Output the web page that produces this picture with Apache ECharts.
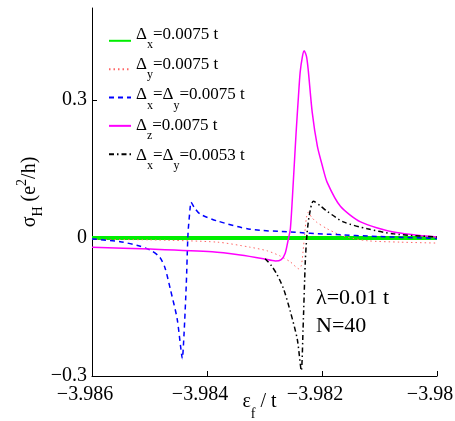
<!DOCTYPE html>
<html>
<head>
<meta charset="utf-8">
<script src="https://cdn.jsdelivr.net/npm/echarts@6/dist/echarts.min.js"></script>
<style>html,body{margin:0;padding:0;background:#fff}#c{width:455px;height:421px}</style>
</head>
<body>
<div id="c"></div>
<script>
// ---- data ----
const xTicks = [-3.986, -3.984, -3.982, -3.98];
const yTicks = [-0.3, 0, 0.3];

const greenX = [-3.986, -3.98];
const greenY = [0, 0];

const redX = [-3.986, -3.985, -3.98382, -3.98325, -3.98295, -3.98273, -3.98255, -3.98240, -3.98236, -3.98233, -3.98230, -3.98227, -3.98224, -3.98218, -3.98210, -3.98191, -3.98163, -3.98121, -3.98064, -3.98];
const redY = [-0.003, -0.004, -0.009, -0.02, -0.028, -0.039, -0.052, -0.067, -0.06, -0.03, 0.01, 0.045, 0.056, 0.045, 0.035, 0.02, 0.004, -0.006, -0.009, -0.011];

const blueX = [-3.986, -3.98551, -3.98516, -3.98496, -3.98482, -3.98473, -3.98464, -3.98452, -3.98446, -3.98443, -3.98440, -3.98436, -3.98433, -3.98429, -3.98428, -3.98422, -3.98412, -3.98382, -3.98325, -3.98255, -3.98186, -3.98098, -3.98];
const blueY = [-0.002, -0.008, -0.018, -0.028, -0.042, -0.065, -0.11, -0.175, -0.235, -0.262, -0.21, -0.1, 0.01, 0.07, 0.078, 0.066, 0.052, 0.037, 0.019, 0.013, 0.008, 0.003, -0.001];

const magX = [-3.986, -3.98499, -3.98391, -3.98342, -3.98302, -3.98281, -3.98271, -3.98264, -3.98259, -3.98255, -3.98250, -3.98245, -3.98241, -3.98238, -3.98234, -3.98231, -3.98227, -3.98224, -3.98217, -3.98208, -3.98199, -3.98191, -3.98168, -3.98133, -3.98076, -3.98];
const magY = [-0.02, -0.024, -0.03, -0.037, -0.045, -0.05, -0.047, -0.033, -0.005, 0.02, 0.12, 0.23, 0.307, 0.36, 0.395, 0.407, 0.395, 0.366, 0.273, 0.199, 0.155, 0.121, 0.069, 0.035, 0.013, 0.002];

const blackX = [-3.98299, -3.98288, -3.98278, -3.98267, -3.98255, -3.98243, -3.98236, -3.98233, -3.98229, -3.98226, -3.98222, -3.98215, -3.98203, -3.98191, -3.98163, -3.98121, -3.98076, -3.98];
const blackY = [-0.045, -0.06, -0.08, -0.11, -0.16, -0.22, -0.288, -0.2, -0.05, 0.01, 0.05, 0.08, 0.07, 0.058, 0.035, 0.02, 0.009, 0.002];

const names = ['dx', 'dy', 'dxy', 'dz', 'dxy2'];
const legendText = {
  dx: '{d|Δ}{s|x}{d|=0.0075 t}',
  dy: '{d|Δ}{s|y}{d|=0.0075 t}',
  dxy: '{d|Δ}{s|x}{d|=Δ}{s|y}{d|=0.0075 t}',
  dz: '{d|Δ}{s|z}{d|=0.0075 t}',
  dxy2: '{d|Δ}{s|x}{d|=Δ}{s|y}{d|=0.0053 t}'
};

function pairs(xs, ys) { return xs.map((x, i) => [x, ys[i]]); }
const FONT = '"Liberation Serif", "DejaVu Serif", serif';
const minus = s => String(s).replace('-', '\u2212');

const chart = echarts.init(document.getElementById('c'), null, {renderer: 'canvas'});
chart.setOption({
  animation: false,
  backgroundColor: '#fff',
  grid: {left: 92, right: 18, top: 8, bottom: 45, containLabel: false, outerBoundsMode: 'none'},
  legend: [
    { // line samples
      data: names,
      orient: 'vertical',
      left: 103,
      top: 31,
      itemWidth: 22,
      itemHeight: 12,
      itemGap: 18.75,
      itemStyle: {opacity: 0},
      formatter: () => ' ',
      textStyle: {fontSize: 6, lineHeight: 6}
    },
    { // labels
      data: names,
      orient: 'vertical',
      left: 103,
      top: 21,
      itemWidth: 22,
      itemHeight: 12,
      itemGap: -5.75,
      itemStyle: {opacity: 0},
      lineStyle: {opacity: 0, color: 'rgba(0,0,0,0)'},
      formatter: n => legendText[n],
      textStyle: {
        fontFamily: FONT, color: '#000',
        rich: {
          d: {fontFamily: FONT, fontSize: 17, color: '#000', lineHeight: 18, verticalAlign: 'top'},
          s: {fontFamily: FONT, fontSize: 12, color: '#000', lineHeight: 14, verticalAlign: 'top', padding: [13, 0, 11, 0]}
        }
      }
    }
  ],
  xAxis: {
    type: 'value', min: -3.986, max: -3.98, interval: 0.002,
    axisLine: {onZero: false, lineStyle: {color: '#000', width: 1}},
    axisTick: {inside: true, length: 5, lineStyle: {color: '#000'}},
    splitLine: {show: false},
    axisLabel: {
      margin: 9, color: '#000', fontFamily: FONT, fontSize: 20, padding: [0, 14, 0, 0],
      formatter: v => minus(parseFloat(v.toFixed(4)))
    },
    name: '{a|ε}{s|f}{a| / t}',
    nameLocation: 'middle', nameGap: 16, nameMoveOverlap: false,
    nameTextStyle: {
      verticalAlign: 'top', padding: [0, 10, 0, 0],
      rich: {
        a: {fontFamily: FONT, fontSize: 20, color: '#000', lineHeight: 20, verticalAlign: 'top'},
        s: {fontFamily: FONT, fontSize: 14, color: '#000', lineHeight: 29, verticalAlign: 'bottom'}
      }
    }
  },
  yAxis: {
    type: 'value', min: -0.3, max: 0.5,
    axisLine: {show: true, onZero: false, lineStyle: {color: '#000', width: 1}},
    axisTick: {show: true, inside: true, length: 5, customValues: yTicks, lineStyle: {color: '#000'}},
    splitLine: {show: false},
    axisLabel: {
      margin: 5, color: '#000', fontFamily: FONT, fontSize: 20, customValues: yTicks,
      formatter: v => minus(parseFloat(v.toFixed(2)))
    },
    name: '{a|σ}{s|H}{a| (e}{p|2}{a|/h)}',
    nameLocation: 'middle', nameRotate: 90, nameGap: 47, nameMoveOverlap: false,
    nameTextStyle: {
      rich: {
        a: {fontFamily: FONT, fontSize: 20, color: '#000', lineHeight: 24, verticalAlign: 'middle'},
        s: {fontFamily: FONT, fontSize: 14, color: '#000', lineHeight: 30, verticalAlign: 'bottom'},
        p: {fontFamily: FONT, fontSize: 14, color: '#000', lineHeight: 30, verticalAlign: 'top'}
      }
    }
  },
  series: [
    {name: 'dx', type: 'line', data: pairs(greenX, greenY), symbol: 'none', z: 2,
     lineStyle: {color: '#00ee00', width: 4}, itemStyle: {color: '#00ee00'}},
    {name: 'dy', type: 'line', data: pairs(redX, redY), symbol: 'none', z: 3, smooth: 0.25,
     lineStyle: {color: '#ff6666', width: 1, type: [1.5, 3]}, itemStyle: {color: '#ff6666'}},
    {name: 'dxy', type: 'line', data: pairs(blueX, blueY), symbol: 'none', z: 4, smooth: 0.25,
     lineStyle: {color: '#0000ff', width: 1.5, type: [5, 4]}, itemStyle: {color: '#0000ff'}},
    {name: 'dz', type: 'line', data: pairs(magX, magY), symbol: 'none', z: 5, smooth: 0.25,
     lineStyle: {color: '#ff00ff', width: 1.5}, itemStyle: {color: '#ff00ff'}},
    {name: 'dxy2', type: 'line', data: pairs(blackX, blackY), symbol: 'none', z: 6, smooth: 0.25,
     lineStyle: {color: '#000', width: 1.5, type: [5, 3, 1.5, 3]}, itemStyle: {color: '#000'}}
  ],
  graphic: [
    {type: 'text', left: 316, top: 287, style: {text: 'λ=0.01 t', fontFamily: FONT, fontSize: 22, fill: '#000'}},
    {type: 'text', left: 316, top: 315, style: {text: 'N=40', fontFamily: FONT, fontSize: 22, fill: '#000'}}
  ]
});
</script>
</body>
</html>
